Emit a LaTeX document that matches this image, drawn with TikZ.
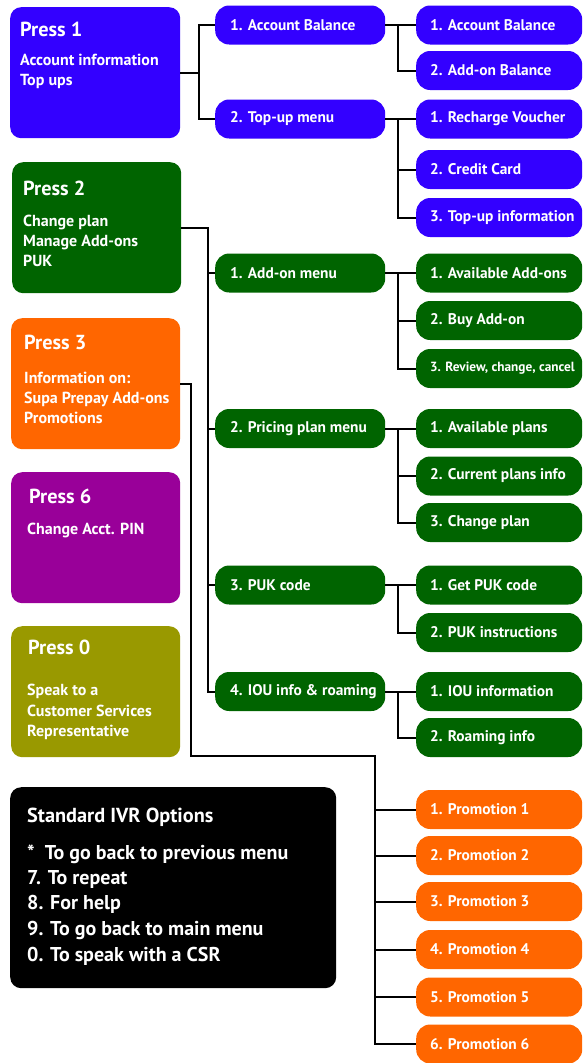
\documentclass[tikz,border=0pt]{standalone}
\usepackage{fontspec}
\setmainfont{PT Sans}
\usetikzlibrary{calc}
\definecolor{vblue}{RGB}{51,0,255}
\definecolor{vgreen}{RGB}{0,100,0}
\definecolor{vorange}{RGB}{255,102,0}
\definecolor{vpurple}{RGB}{153,0,153}
\definecolor{volive}{RGB}{153,153,0}
\newcommand{\mytxt}[2]{\hbox to #1{#2\hss}}
\begin{document}
\begin{tikzpicture}[x=1pt,y=-1pt,
  bigbox/.style={fill=#1, rounded corners=11pt, inner sep=0pt, draw=none, anchor=north west},
  pill/.style={fill=#1, rounded corners=14pt, minimum height=39pt, inner sep=0pt, text=white,
    font=\bfseries\fontsize{15.4}{16}\selectfont, anchor=west},
  midpill/.style={pill=#1, minimum width=170pt},
  rpill/.style={pill=#1, minimum width=166pt},
  head/.style={text=white, font=\bfseries\fontsize{20.3}{22}\selectfont, anchor=base west, inner sep=0pt},
  body/.style={text=white, font=\bfseries\fontsize{16}{18}\selectfont, anchor=base west, inner sep=0pt},
  ivrtxt/.style={text=white, font=\bfseries\fontsize{20}{22}\selectfont, anchor=base west, inner sep=0pt},
  conn/.style={line width=2pt, black}]
\useasboundingbox (0,0) rectangle (582,1063);

% left boxes
\node[bigbox=vblue, minimum width=170pt, minimum height=131pt] (p1) at (10,7) {};
\node[bigbox=vgreen, minimum width=169pt, minimum height=131pt] (p2) at (12,162) {};
\node[bigbox=vorange, minimum width=169pt, minimum height=131pt] (p3) at (11,318) {};
\node[bigbox=vpurple, minimum width=169pt, minimum height=131pt] (p6) at (11,472) {};
\node[bigbox=volive, minimum width=169pt, minimum height=131pt] (p0) at (11,626) {};
\node[bigbox=black, minimum width=326pt, minimum height=201pt] (ivr) at (10,787) {};

\node[head] (p1h) at (20,36) {Press 1};
\node[body] (p1a) at (20,65) {Account information};
\node[body] (p1b) at (20,85) {Top ups};

\node[head] (p2h) at (23,195) {Press 2};
\node[body] (p2a) at (23,226) {Change plan};
\node[body] (p2b) at (23,246) {Manage Add-ons};
\node[body] (p2c) at (23,266) {PUK};

\node[head] (p3h) at (24,349) {Press 3};
\node[body] (p3a) at (24,383) {Information on:};
\node[body] (p3b) at (24,403) {Supa Prepay Add-ons};
\node[body] (p3c) at (24,423) {Promotions};

\node[head] (p6h) at (29,503) {Press 6};
\node[body] (p6a) at (27,534) {Change Acct. PIN};

\node[head] (p0h) at (28,654) {Press 0};
\node[body] (p0a) at (27,695) {Speak to a};
\node[body] (p0b) at (27,716) {Customer Services};
\node[body] (p0c) at (27,736) {Representative};

\node[ivrtxt, font=\bfseries\fontsize{20.3}{22}\selectfont] (ivh) at (27,822) {Standard IVR Options};
\node[ivrtxt] (iv1) at (27,859) {*\hspace{10pt}To go back to previous menu};
\node[ivrtxt] (iv2) at (27,884) {7. To repeat};
\node[ivrtxt] (iv3) at (27,909) {8. For help};
\node[ivrtxt] (iv4) at (27,935) {9. To go back to main menu};
\node[ivrtxt] (iv5) at (27,961) {0. To speak with a CSR};

% level 2
\node[midpill=vblue] (a1) at (215,25) {\mytxt{140pt}{1. Account Balance}};
\node[midpill=vblue] (a2) at (215,119) {\mytxt{140pt}{2. Top-up menu}};
\node[midpill=vgreen] (m1) at (215,273) {\mytxt{140pt}{1. Add-on menu}};
\node[midpill=vgreen] (m2) at (215,428.5) {\mytxt{140pt}{2. Pricing plan menu}};
\node[midpill=vgreen] (m3) at (215,585) {\mytxt{140pt}{3. PUK code}};
\node[midpill=vgreen] (m4) at (215,691.5) {\mytxt{140pt}{4. IOU info \& roaming}};

% level 3
\node[rpill=vblue] (b1) at (416,25) {\mytxt{138pt}{1. Account Balance}};
\node[rpill=vblue] (b2) at (416,70.5) {\mytxt{138pt}{2. Add-on Balance}};
\node[rpill=vblue] (b3) at (416,119) {\mytxt{138pt}{1. Recharge Voucher}};
\node[rpill=vblue] (b4) at (416,169.5) {\mytxt{138pt}{2. Credit Card}};
\node[rpill=vblue] (b5) at (416,217.5) {\mytxt{138pt}{3. Top-up information}};
\node[rpill=vgreen] (c1) at (416,273) {\mytxt{138pt}{1. Available Add-ons}};
\node[rpill=vgreen] (c2) at (416,320.5) {\mytxt{138pt}{2. Buy Add-on}};
\node[rpill=vgreen, font=\bfseries\fontsize{13.3}{14}\selectfont] (c3) at (416,368.5) {\mytxt{138pt}{3. Review, change, cancel}};
\node[rpill=vgreen] (d1) at (416,428.5) {\mytxt{138pt}{1. Available plans}};
\node[rpill=vgreen] (d2) at (416,476) {\mytxt{138pt}{2. Current plans info}};
\node[rpill=vgreen] (d3) at (416,522.5) {\mytxt{138pt}{3. Change plan}};
\node[rpill=vgreen] (e1) at (416,585) {\mytxt{138pt}{1. Get PUK code}};
\node[rpill=vgreen] (e2) at (416,632.5) {\mytxt{138pt}{2. PUK instructions}};
\node[rpill=vgreen] (f1) at (416,691.5) {\mytxt{138pt}{1. IOU information}};
\node[rpill=vgreen] (f2) at (416,737.5) {\mytxt{138pt}{2. Roaming info}};
\node[rpill=vorange] (g1) at (416,809.5) {\mytxt{138pt}{1. Promotion 1}};
\node[rpill=vorange] (g2) at (416,855.5) {\mytxt{138pt}{2. Promotion 2}};
\node[rpill=vorange] (g3) at (416,901.5) {\mytxt{138pt}{3. Promotion 3}};
\node[rpill=vorange] (g4) at (416,949.5) {\mytxt{138pt}{4. Promotion 4}};
\node[rpill=vorange] (g5) at (416,997) {\mytxt{138pt}{5. Promotion 5}};
\node[rpill=vorange] (g6) at (416,1044) {\mytxt{138pt}{6. Promotion 6}};

% junctions
\coordinate (j1) at (199,0);
\coordinate (j2) at (208,0);
\coordinate (jr) at (398,0);
\coordinate (k1) at (191,756);
\coordinate (k2) at (375,756);

% connectors
\foreach \n in {a1,a2} \draw[conn] (\n.west) -- (\n.west -| j1) |- (p1.east);
\foreach \n in {m1,m2,m3,m4} \draw[conn] (\n.west) -- (\n.west -| j2) |- (p2.east);
\foreach \n in {b1,b2} \draw[conn] (\n.west) -- (\n.west -| jr) |- (a1.east);
\foreach \n in {b3,b4,b5} \draw[conn] (\n.west) -- (\n.west -| jr) |- (a2.east);
\foreach \n in {c1,c2,c3} \draw[conn] (\n.west) -- (\n.west -| jr) |- (m1.east);
\foreach \n in {d1,d2,d3} \draw[conn] (\n.west) -- (\n.west -| jr) |- (m2.east);
\foreach \n in {e1,e2} \draw[conn] (\n.west) -- (\n.west -| jr) |- (m3.east);
\foreach \n in {f1,f2} \draw[conn] (\n.west) -- (\n.west -| jr) |- (m4.east);
\draw[conn] (p3.east) -| (k1) -- (k2) -- (g6.west -| k2) -- (g6.west);
\foreach \n in {g1,g2,g3,g4,g5} \draw[conn] (\n.west) -- (\n.west -| k2);
\end{tikzpicture}
\end{document}
